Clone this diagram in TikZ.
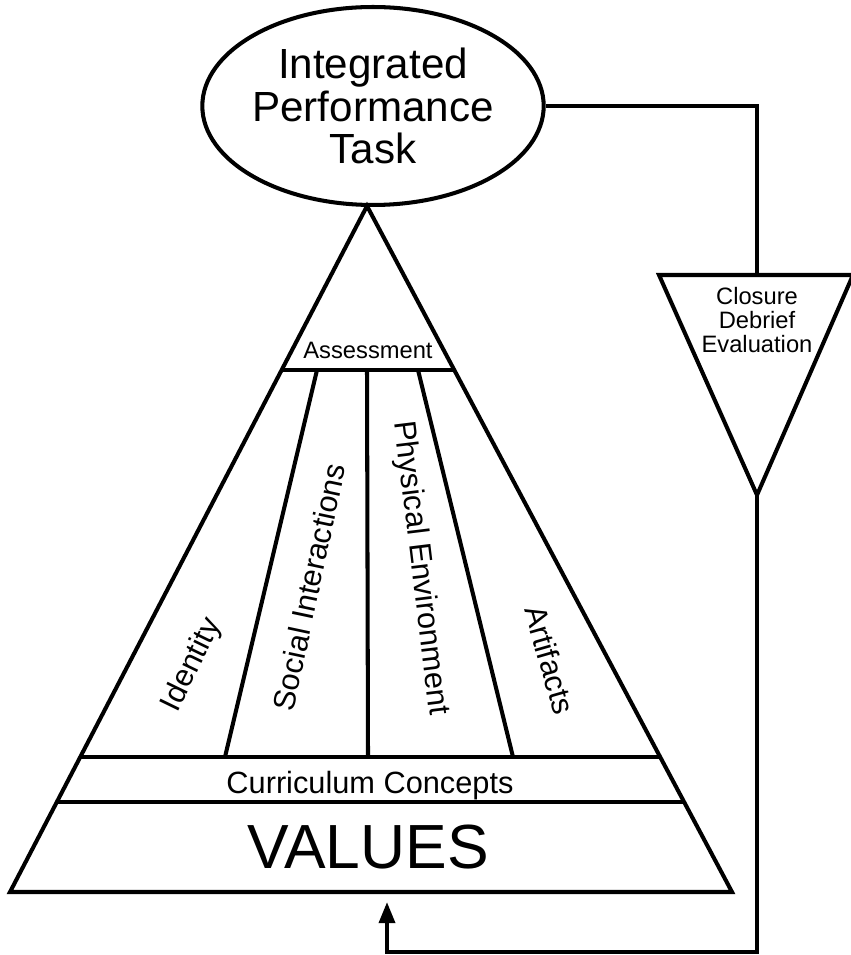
\documentclass[tikz,border=0pt]{standalone}
\usepackage{fontspec}
\setmainfont{Liberation Sans}
\usetikzlibrary{shapes.geometric,arrows.meta,calc,positioning}

\begin{document}
\begin{tikzpicture}[x=0.02cm, y=-0.02cm, line width=2.3pt,
        band/.style={font=\fontsize{17.5}{17.5}\selectfont, inner sep=0pt},
        small/.style={font=\fontsize{13.5}{13.6}\selectfont, align=center, inner sep=0pt},
        feedback/.style={-{Triangle[length=12pt,width=9pt]}}]
    \useasboundingbox (0,0) rectangle (850,955);

    % task on top
    \node[ellipse, draw, minimum width=6.66cm, minimum height=3.96cm, inner sep=0pt, align=center,
          font=\fontsize{24}{24}\selectfont] at (373,106) (task) {Integrated\\Performance\\Task};

    % main triangle
    \coordinate (apex) at (367,206);
    \coordinate (bl) at (10,892);
    \coordinate (br) at (732,892);
    \draw (apex) -- (bl) -- (br) -- cycle;

    \draw (282.4,370) -- (453.5,370);
    \draw (80.5,757) -- (660,757);
    \draw (57,802) -- (684,802);

    \draw (317,370) -- (225,757);
    \draw (367,370) -- (368,757);
    \draw (418,370) -- (513,757);

    \node[small] at (368,350) (assess) {Assessment};
    \node[band, rotate=64] at (192,665) (ident) {Identity};
    \node[band, rotate=78] at (309,587) (social) {Social Interactions};
    \node[band, rotate=-83] at (420,568) (phys) {Physical Environment};
    \node[band, rotate=-74] at (550,660) (artif) {Artifacts};
    \node[band, anchor=base] at (370,793) (curric) {Curriculum Concepts};
    \node[inner sep=0pt, anchor=base, font=\fontsize{35.5}{35.5}\selectfont] at (368,868) (values) {VALUES};

    % closure triangle
    \coordinate (cl) at (659,275);
    \coordinate (ctop) at (757,275);
    \coordinate (cr) at (853,275);
    \coordinate (capex) at (757,495);
    \draw (cl) -- (cr) -- (capex) -- cycle;
    \node[small] at (757,320) (closure) {Closure\\Debrief\\Evaluation};

    % loop back
    \coordinate (turn) at (387,952);
    \coordinate (aim) at (387,902);
    \draw (task.east) -- (task.east -| ctop) -- (ctop);
    \draw[feedback] (capex) |- (turn) -- (aim);
\end{tikzpicture}
\end{document}
